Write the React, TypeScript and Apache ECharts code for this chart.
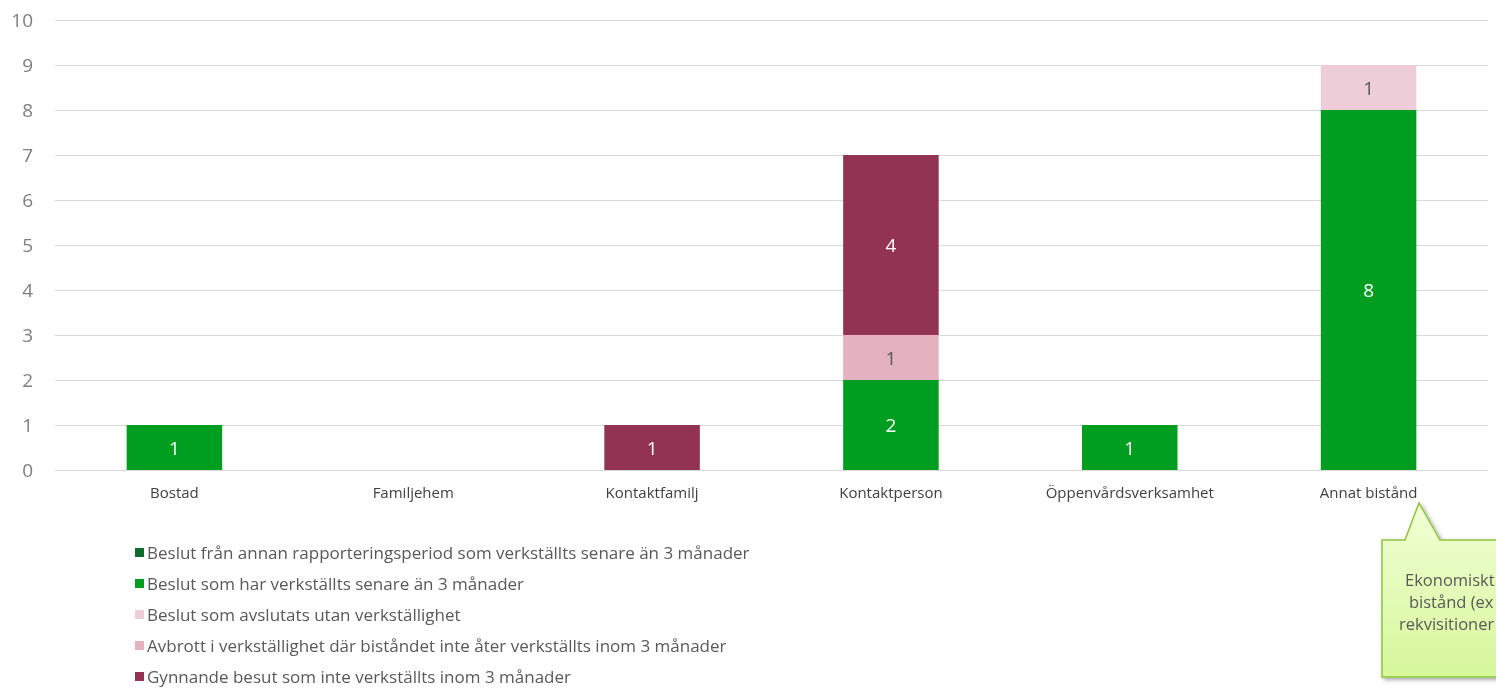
import React, { useEffect, useRef } from "react";
import * as echarts from "echarts";

const categories = ["Bostad", "Familjehem", "Kontaktfamilj", "Kontaktperson", "Öppenvårdsverksamhet", "Annat bistånd"];
const yTicks = [0, 10];
const seriesNames = [
  "Beslut från annan rapporteringsperiod som verkställts senare än 3 månader",
  "Beslut som har verkställts senare än 3 månader",
  "Beslut som avslutats utan verkställighet",
  "Avbrott i verkställighet där biståndet inte åter verkställts inom 3 månader",
  "Gynnande besut som inte verkställts inom 3 månader",
];
const fromOtherPeriod = [0, 0, 0, 0, 0, 0];
const executedLate = [1, 0, 0, 2, 1, 8];
const closedWithoutExecution = [0, 0, 0, 0, 0, 1];
const interrupted = [0, 0, 0, 1, 0, 0];
const notExecuted = [0, 0, 1, 4, 0, 0];
const calloutLines = ["Ekonomiskt", "bistånd (ex", "rekvisitioner"];

const seriesValues = [fromOtherPeriod, executedLate, closedWithoutExecution, interrupted, notExecuted];
const seriesColors = ["#0E6B2C", "#009E20", "#EDCDD8", "#E4B1C0", "#933353"];
const labelColors = ["#FFFFFF", "#FFFFFF", "#595959", "#595959", "#FFFFFF"];

const FONT = "'Open Sans', 'Noto Sans', sans-serif";

export default function App() {
  const ref = useRef<HTMLDivElement>(null);
  useEffect(() => {
    document.body.style.margin = "0";
    const chart = echarts.init(ref.current!, null, { renderer: "svg" });
    chart.setOption({
      animation: false,
      textStyle: { fontFamily: FONT },
      grid: { left: 55, right: 8, top: 20, bottom: 219, containLabel: false },
      xAxis: {
        type: "category",
        data: categories,
        axisLine: { show: true, lineStyle: { color: "#D9D9D9" } },
        axisTick: { show: false },
        axisLabel: { color: "#404040", fontSize: 15, margin: 14, fontFamily: FONT },
      },
      yAxis: {
        type: "value",
        min: yTicks[0],
        max: yTicks[1],
        interval: 1,
        axisLine: { show: false },
        axisTick: { show: false },
        splitLine: { lineStyle: { color: "#D9D9D9" } },
        axisLabel: { color: "#7F7F7F", fontSize: 19, margin: 22, fontFamily: FONT },
      },
      legend: {
        orient: "vertical",
        left: 130,
        top: 538,
        height: 150,
        itemWidth: 9,
        itemHeight: 9,
        itemGap: 12,
        icon: "rect",
        selectedMode: false,
        textStyle: { color: "#595959", fontSize: 17, lineHeight: 19, fontFamily: FONT, padding: [0, 0, 0, -2] },
        data: seriesNames,
      },
      series: seriesNames.map((name, i) => ({
        name,
        type: "bar",
        stack: "total",
        barWidth: "40%",
        itemStyle: { color: seriesColors[i] },
        label: {
          show: true,
          position: "inside",
          color: labelColors[i],
          fontSize: 19,
          fontFamily: FONT,
          formatter: (p: any) => (p.value > 0 ? String(p.value) : ""),
        },
        data: seriesValues[i].map((v) => (v > 0 ? v : null)),
      })),
      graphic: [
        {
          type: "polygon",
          z: 100,
          shape: {
            points: [
              [1382, 540],
              [1405, 540],
              [1419, 503],
              [1440, 540],
              [1510, 540],
              [1510, 677],
              [1382, 677],
            ],
          },
          style: {
            fill: new echarts.graphic.LinearGradient(0, 0, 0, 1, [
              { offset: 0, color: "#F2FFD6" },
              { offset: 1, color: "#D6F79A" },
            ]),
            stroke: "#8FC43E",
            lineWidth: 1.5,
            shadowBlur: 4,
            shadowOffsetX: 2,
            shadowOffsetY: 2,
            shadowColor: "rgba(0,0,0,0.35)",
          },
        },
        ...calloutLines.map((t, i) => ({
          type: "text",
          z: 101,
          left: [1405, 1409, 1399][i],
          top: 571 + i * 22,
          style: { text: t, fill: "#595959", font: `16.5px ${FONT}` },
        })),
      ],
    });
    return () => chart.dispose();
  }, []);
  return <div ref={ref} style={{ position: "fixed", left: 0, top: 0, width: 1496, height: 689 }} />;
}
